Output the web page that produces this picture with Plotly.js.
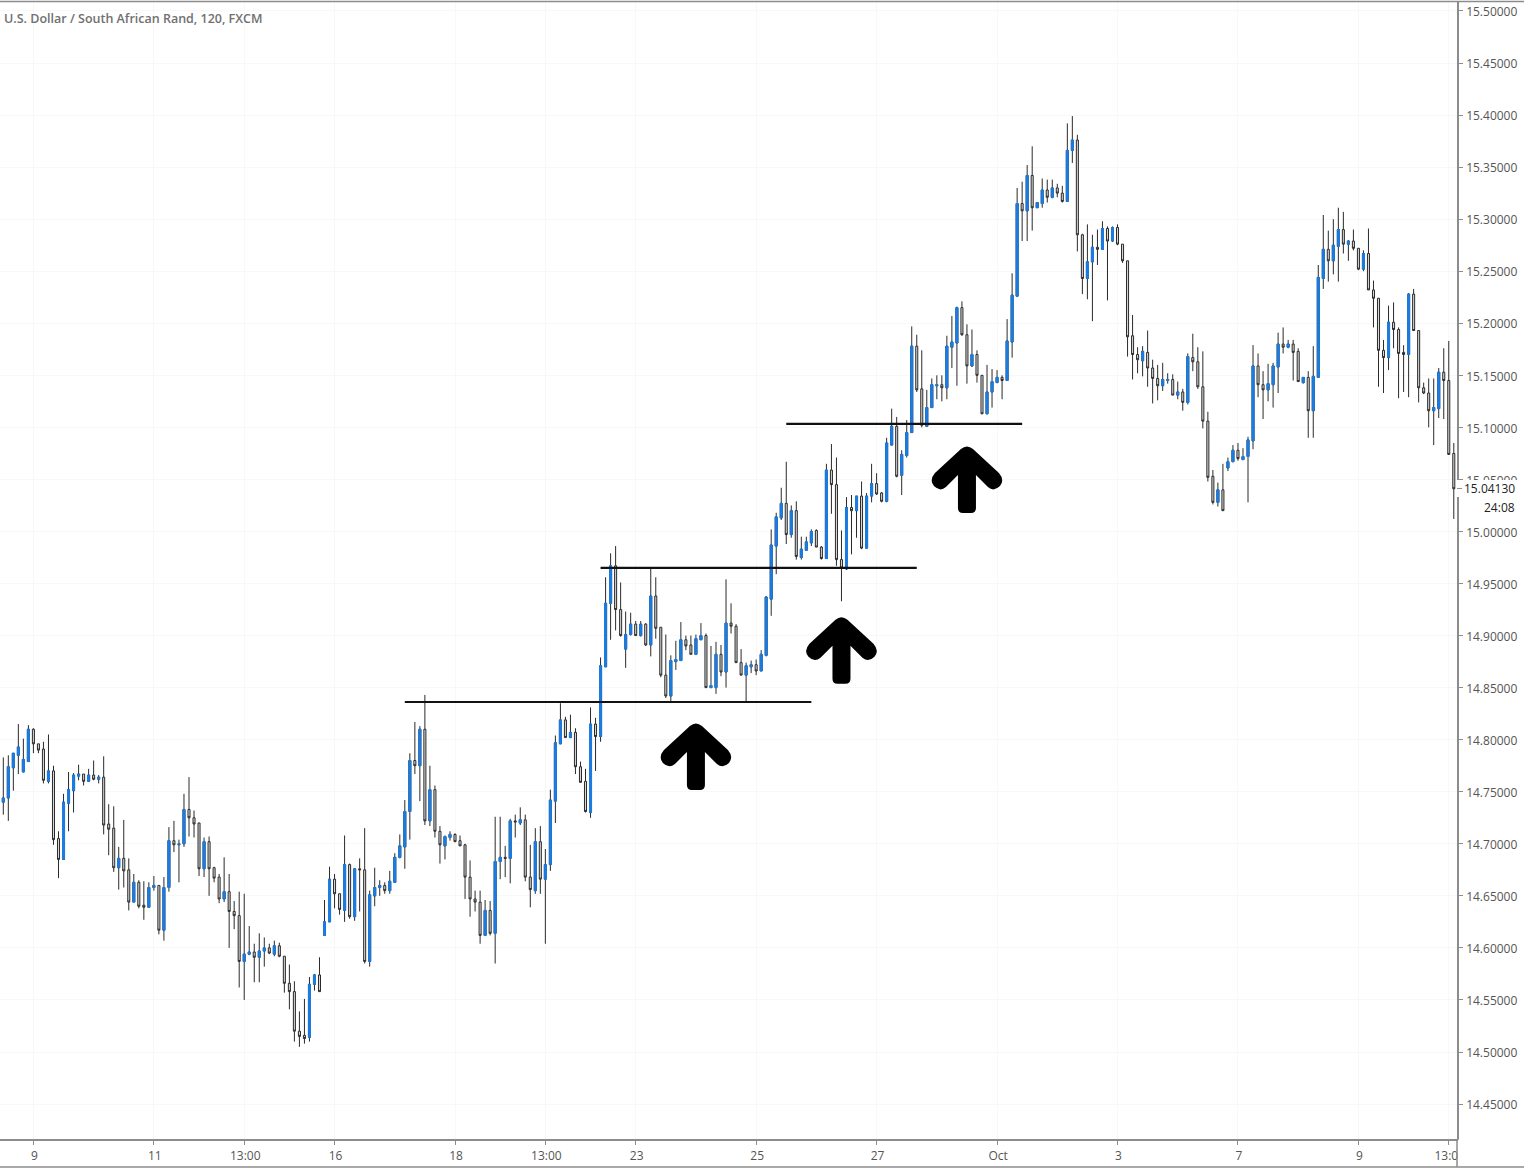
<!DOCTYPE html>
<html>
<head>
<meta charset="utf-8">
<script src="https://cdn.plot.ly/plotly-3.0.1.min.js"></script>
<style>
  html, body { margin: 0; padding: 0; background: #fff; }
</style>
</head>
<body>
<div id="graph-div" style="width:1529px;height:1173px"></div>
<script>
// USD/ZAR 2h bars
var opens = [
14.740,14.744,14.773,14.785,14.769,14.779,14.810,14.796,14.791,14.760,
14.770,14.705,14.685,14.739,14.751,14.765,14.767,14.760,14.766,14.762,
14.764,14.719,14.715,14.677,14.686,14.675,14.644,14.663,14.641,14.639,
14.658,14.660,14.617,14.658,14.703,14.699,14.700,14.733,14.725,14.720,
14.676,14.702,14.677,14.668,14.647,14.654,14.635,14.631,14.587,14.594,
14.596,14.591,14.597,14.600,14.594,14.602,14.592,14.566,14.558,14.520,
14.516,14.514,14.565,14.574,14.612,14.625,14.666,14.652,14.636,14.680,
14.630,14.676,14.675,14.587,14.650,14.658,14.660,14.655,14.663,14.687,
14.697,14.731,14.780,14.775,14.810,14.722,14.752,14.712,14.698,14.706,
14.709,14.703,14.699,14.668,14.647,14.644,14.612,14.636,14.614,14.683,
14.687,14.686,14.722,14.720,14.723,14.668,14.655,14.702,14.666,14.680,
14.741,14.796,14.819,14.802,14.807,14.774,14.760,14.730,14.815,14.803,
14.870,14.931,14.967,14.925,14.887,14.901,14.911,14.900,14.911,14.891,
14.938,14.908,14.862,14.842,14.875,14.876,14.896,14.891,14.882,14.896,
14.900,14.850,14.850,14.882,14.865,14.912,14.909,14.874,14.862,14.870,
14.872,14.866,14.881,14.935,14.986,15.013,15.027,14.997,15.020,14.975,
14.982,14.989,15.001,14.985,14.974,15.059,15.045,14.973,14.964,15.023,
15.020,15.034,14.984,15.034,15.046,15.037,15.029,15.083,15.101,15.054,
15.073,15.095,15.178,15.137,15.101,15.119,15.140,15.141,15.138,15.177,
15.181,15.215,15.189,15.159,15.170,15.150,15.113,15.134,15.143,15.148,
15.145,15.182,15.226,15.315,15.308,15.342,15.311,15.315,15.328,15.321,
15.330,15.325,15.317,15.366,15.376,15.285,15.243,15.259,15.273,15.271,
15.291,15.279,15.292,15.276,15.260,15.188,15.170,15.164,15.172,15.157,
15.147,15.140,15.145,15.146,15.131,15.134,15.124,15.167,15.163,15.139,
15.106,15.053,15.028,15.040,15.061,15.067,15.078,15.069,15.072,15.087,
15.159,15.141,15.136,15.141,15.158,15.180,15.177,15.180,15.173,15.143,
15.148,15.116,15.148,15.243,15.271,15.260,15.274,15.290,15.276,15.279,
15.272,15.252,15.267,15.232,15.224,15.174,15.167,15.201,15.194,15.172,
15.170,15.228,15.193,15.138,15.133,15.116,15.118,15.153,15.145,15.075
]
var highs = [
14.783,14.785,14.787,14.815,14.801,14.814,14.811,14.796,14.798,14.805,
14.775,14.712,14.748,14.769,14.768,14.776,14.767,14.772,14.780,14.766,
14.784,14.738,14.736,14.697,14.723,14.686,14.671,14.665,14.664,14.663,
14.669,14.660,14.668,14.716,14.722,14.704,14.748,14.764,14.732,14.720,
14.706,14.707,14.678,14.671,14.687,14.671,14.645,14.654,14.652,14.621,
14.604,14.614,14.610,14.604,14.607,14.605,14.592,14.584,14.568,14.539,
14.551,14.572,14.575,14.591,14.646,14.678,14.671,14.652,14.708,14.681,
14.676,14.686,14.715,14.655,14.677,14.665,14.663,14.674,14.691,14.709,
14.742,14.787,14.817,14.813,14.843,14.775,14.756,14.717,14.708,14.712,
14.710,14.708,14.700,14.684,14.655,14.655,14.646,14.645,14.726,14.726,
14.698,14.724,14.728,14.735,14.728,14.699,14.715,14.717,14.695,14.752,
14.804,14.835,14.822,14.824,14.811,14.779,14.772,14.831,14.821,14.879,
14.956,14.979,14.986,14.951,14.923,14.922,14.914,14.914,14.912,14.965,
14.956,14.908,14.901,14.881,14.895,14.913,14.900,14.900,14.901,14.912,
14.902,14.890,14.894,14.891,14.954,14.931,14.911,14.887,14.874,14.876,
14.877,14.886,14.938,15.002,15.018,15.042,15.067,15.025,15.029,14.995,
14.995,15.002,15.002,14.986,15.065,15.084,15.071,15.001,15.033,15.035,
15.034,15.048,15.037,15.065,15.056,15.038,15.090,15.118,15.110,15.078,
15.107,15.197,15.189,15.174,15.136,15.147,15.150,15.150,15.188,15.207,
15.216,15.221,15.199,15.194,15.174,15.150,15.160,15.156,15.155,15.150,
15.204,15.248,15.330,15.336,15.352,15.370,15.316,15.339,15.338,15.338,
15.334,15.332,15.392,15.399,15.381,15.286,15.295,15.285,15.290,15.298,
15.293,15.293,15.295,15.276,15.260,15.208,15.177,15.178,15.193,15.165,
15.160,15.162,15.152,15.151,15.144,15.137,15.171,15.190,15.177,15.173,
15.115,15.059,15.047,15.065,15.071,15.083,15.085,15.080,15.091,15.179,
15.171,15.154,15.161,15.162,15.191,15.196,15.184,15.184,15.176,15.148,
15.154,15.178,15.256,15.304,15.289,15.300,15.311,15.307,15.280,15.290,
15.272,15.270,15.291,15.241,15.224,15.184,15.217,15.220,15.196,15.179,
15.229,15.233,15.193,15.143,15.147,15.147,15.157,15.176,15.183,15.085
]
var lows = [
14.728,14.722,14.751,14.767,14.769,14.779,14.787,14.787,14.758,14.758,
14.699,14.667,14.685,14.712,14.730,14.761,14.756,14.760,14.761,14.758,
14.709,14.689,14.673,14.656,14.658,14.636,14.644,14.638,14.627,14.639,
14.655,14.613,14.607,14.654,14.692,14.663,14.697,14.707,14.706,14.669,
14.668,14.650,14.663,14.643,14.644,14.600,14.618,14.562,14.550,14.593,
14.567,14.567,14.582,14.594,14.592,14.591,14.557,14.541,14.510,14.505,
14.508,14.510,14.559,14.558,14.612,14.625,14.638,14.632,14.625,14.628,
14.626,14.635,14.585,14.582,14.640,14.650,14.652,14.652,14.663,14.686,
14.676,14.704,14.767,14.741,14.718,14.717,14.706,14.681,14.685,14.703,
14.702,14.698,14.647,14.630,14.635,14.604,14.612,14.612,14.585,14.666,
14.668,14.662,14.706,14.718,14.664,14.639,14.652,14.652,14.604,14.674,
14.720,14.796,14.802,14.802,14.767,14.759,14.730,14.725,14.770,14.798,
14.870,14.896,14.905,14.899,14.869,14.900,14.900,14.899,14.890,14.880,
14.897,14.860,14.840,14.837,14.867,14.876,14.886,14.882,14.882,14.896,
14.850,14.850,14.844,14.861,14.850,14.902,14.874,14.862,14.837,14.864,
14.862,14.866,14.880,14.919,14.959,15.011,14.988,14.994,14.973,14.973,
14.982,14.986,14.985,14.973,14.974,15.017,14.967,14.933,14.963,14.978,
14.994,14.983,14.984,15.028,15.035,15.028,15.028,15.083,15.052,15.035,
15.071,15.095,15.134,15.100,15.101,15.119,15.127,15.125,15.127,15.157,
15.140,15.188,15.142,15.158,15.143,15.113,15.113,15.119,15.143,15.127,
15.145,15.167,15.226,15.279,15.279,15.289,15.311,15.311,15.316,15.320,
15.321,15.316,15.317,15.354,15.269,15.228,15.223,15.202,15.256,15.271,
15.222,15.278,15.275,15.258,15.168,15.146,15.152,15.149,15.139,15.123,
15.126,15.135,15.142,15.131,15.127,15.116,15.122,15.154,15.137,15.099,
15.048,15.026,15.024,15.020,15.058,15.067,15.068,15.069,15.028,15.079,
15.129,15.108,15.125,15.119,15.133,15.171,15.176,15.145,15.144,15.142,
15.090,15.090,15.148,15.233,15.240,15.247,15.240,15.267,15.260,15.270,
15.251,15.250,15.232,15.196,15.139,15.133,15.155,15.176,15.128,15.134,
15.129,15.193,15.124,15.132,15.100,15.083,15.109,15.108,15.074,15.012
]
var closes = [
14.744,14.774,14.787,14.793,14.781,14.810,14.796,14.790,14.761,14.770,
14.704,14.685,14.740,14.752,14.766,14.767,14.760,14.766,14.762,14.764,
14.718,14.714,14.677,14.686,14.674,14.644,14.663,14.640,14.639,14.658,
14.660,14.617,14.658,14.703,14.699,14.700,14.733,14.725,14.719,14.676,
14.702,14.676,14.667,14.647,14.654,14.635,14.631,14.587,14.594,14.596,
14.591,14.597,14.600,14.595,14.602,14.592,14.566,14.558,14.520,14.515,
14.513,14.565,14.574,14.558,14.625,14.666,14.652,14.637,14.680,14.630,
14.676,14.675,14.587,14.651,14.658,14.660,14.655,14.664,14.687,14.698,
14.731,14.780,14.775,14.810,14.722,14.752,14.712,14.699,14.707,14.709,
14.702,14.698,14.668,14.647,14.644,14.612,14.636,14.614,14.683,14.687,
14.686,14.722,14.721,14.723,14.668,14.656,14.702,14.666,14.680,14.742,
14.797,14.819,14.802,14.807,14.774,14.759,14.731,14.815,14.803,14.871,
14.931,14.967,14.925,14.900,14.901,14.911,14.900,14.911,14.891,14.938,
14.907,14.862,14.842,14.876,14.877,14.896,14.890,14.882,14.897,14.900,
14.850,14.852,14.882,14.865,14.912,14.909,14.874,14.862,14.871,14.872,
14.866,14.882,14.937,14.987,15.014,15.027,14.997,15.020,14.976,14.983,
14.990,15.000,14.985,14.974,15.059,15.045,14.973,14.965,15.023,15.020,
15.034,14.984,15.034,15.046,15.036,15.029,15.085,15.101,15.053,15.074,
15.095,15.178,15.136,15.102,15.119,15.141,15.141,15.138,15.178,15.182,
15.215,15.189,15.159,15.170,15.150,15.113,15.134,15.144,15.148,15.145,
15.183,15.227,15.315,15.308,15.342,15.311,15.316,15.328,15.321,15.330,
15.325,15.317,15.366,15.376,15.285,15.243,15.259,15.273,15.271,15.291,
15.279,15.292,15.276,15.260,15.187,15.170,15.165,15.173,15.157,15.147,
15.140,15.146,15.146,15.131,15.134,15.124,15.168,15.163,15.139,15.106,
15.052,15.028,15.040,15.020,15.067,15.078,15.070,15.072,15.088,15.159,
15.141,15.136,15.142,15.159,15.180,15.177,15.180,15.172,15.144,15.148,
15.116,15.149,15.244,15.271,15.260,15.275,15.290,15.276,15.279,15.272,
15.252,15.267,15.232,15.224,15.174,15.167,15.201,15.194,15.171,15.170,
15.228,15.193,15.138,15.133,15.116,15.119,15.153,15.145,15.074,15.041
]

var timeTicks = [6,30,48,66,90,108,126,150,174,198,222,246,270,288]
var timeLabels = ["9","11","13:00","16","18","13:00","23","25","27","Oct","3","7","9","13:00"]
var priceTicks = [15.5,15.45,15.4,15.35,15.3,15.25,15.2,15.15,15.1,15.05,15,14.95,14.9,14.85,14.8,14.75,14.7,14.65,14.6,14.55,14.5,14.45]

// support/resistance lines: [first bar, last bar, price]
var levels = [[80,161,14.8362],[119,182,14.9650],[156,203,15.1033]]
// arrows: [bar, price of the tip]
var arrows = [[138,14.816],[167,14.918],[192,15.082]]

var lastPrice = 15.0413
var countdown = "24:08"

var bars = opens.map(function(v, i) { return i })
var upIdx = bars.filter(function(i) { return closes[i] >= opens[i] })

var BLUE = "#1c7ce0"
var DARK = "#2a2a2a"
var GREY = "#555"
var FRAME = "#8c8c8c"
var FONT = "'Open Sans', sans-serif"

var candles = {
  type: "candlestick", x: bars, open: opens, high: highs, low: lows, close: closes,
  increasing: {line: {color: DARK, width: 1}, fillcolor: BLUE},
  decreasing: {line: {color: DARK, width: 1}, fillcolor: "#d8d8d8"},
  hoverinfo: "skip", showlegend: false
}
// bodies only, so the blue candles keep dark wicks
var blueBodies = {
  type: "candlestick",
  x: upIdx,
  open: upIdx.map(function(i) { return opens[i] }),
  high: upIdx.map(function(i) { return closes[i] }),
  low: upIdx.map(function(i) { return opens[i] }),
  close: upIdx.map(function(i) { return closes[i] }),
  increasing: {line: {color: BLUE, width: 1}, fillcolor: BLUE},
  decreasing: {line: {color: BLUE, width: 1}, fillcolor: BLUE},
  hoverinfo: "skip", showlegend: false
}

var shapes = []
for (let i = 0; i < levels.length; ++i) {
  shapes.push({type: "line", xref: "x", yref: "y", x0: levels[i][0], x1: levels[i][1], y0: levels[i][2], y1: levels[i][2],
    line: {color: "#111", width: 2.2}})
}
for (let i = 0; i < arrows.length; ++i) {
  shapes.push({type: "path", xref: "x", yref: "y", xsizemode: "pixel", ysizemode: "pixel",
    xanchor: arrows[i][0], yanchor: arrows[i][1],
    path: "M -6 -3 Q 0 2 6 -3 L 32 -27 Q 38 -34 33 -40 Q 27 -46 21 -41 L 9 -29 L 9 -62 Q 9 -67 4 -67 L -4 -67 Q -9 -67 -9 -62 L -9 -29 L -21 -41 Q -27 -46 -33 -40 Q -38 -34 -32 -27 Z",
    fillcolor: "#000", line: {width: 0}})
}
// right of the price axis, the time axis is cut off
shapes.push({type: "rect", xref: "paper", yref: "paper", x0: 1.0007, x1: 1.0494, y0: -0.024, y1: -0.0007,
  fillcolor: "#fff", line: {width: 0}})
// price tag hides the axis line and half of the tick label behind it
shapes.push({type: "rect", xref: "paper", yref: "y", x0: 0.9993, x1: 1.0494, y0: 15.033, y1: 15.0495,
  fillcolor: "#fff", line: {width: 0}})
shapes.push({type: "rect", xref: "paper", yref: "y", x0: 1.002, x1: 1.0494, y0: 15.012, y1: 15.033,
  fillcolor: "#fff", line: {width: 0}})
shapes.push({type: "line", xref: "paper", yref: "y", x0: 1, x1: 1.0035, y0: lastPrice, y1: lastPrice,
  line: {color: FRAME, width: 1}})
// outer frame
shapes.push({type: "line", xref: "paper", yref: "paper", x0: 0, x1: 1.046, y0: 1.0005, y1: 1.0005, line: {color: FRAME, width: 1.5}})
shapes.push({type: "line", xref: "paper", yref: "paper", x0: 0, x1: 1.046, y0: -0.0246, y1: -0.0246, line: {color: FRAME, width: 1.5}})
shapes.push({type: "line", xref: "paper", yref: "paper", x0: 1, x1: 1, y0: -0.0246, y1: -0.0003, line: {color: FRAME, width: 1.5}})

var layout = {
  width: 1529, height: 1173,
  margin: {l: 0, r: 72, t: 2, b: 34, pad: 0},
  paper_bgcolor: "#fff", plot_bgcolor: "#fff",
  showlegend: false, dragmode: false, boxgap: 0.42,
  xaxis: {
    range: [-0.657, 289.64], rangeslider: {visible: false},
    tickmode: "array", tickvals: timeTicks, ticktext: timeLabels,
    ticks: "outside", ticklen: 4, tickcolor: FRAME, tickwidth: 1,
    tickfont: {family: FONT, size: 12, color: GREY}, ticklabelstandoff: 1, ticklabelshift: 1,
    showgrid: true, gridcolor: "#f8f8f8", gridwidth: 1, zeroline: false,
    showline: true, linecolor: FRAME, linewidth: 1.5
  },
  yaxis: {
    side: "right", range: [14.41643, 15.5086],
    tickmode: "array", tickvals: priceTicks, tickformat: ".5f",
    ticks: "outside", ticklen: 4, tickcolor: FRAME, tickwidth: 1,
    tickfont: {family: FONT, size: 12, color: GREY}, ticklabelstandoff: 1, ticklabelshift: 1,
    showgrid: true, gridcolor: "#f8f8f8", gridwidth: 1, zeroline: false,
    showline: true, linecolor: FRAME, linewidth: 1.5
  },
  shapes: shapes,
  annotations: [
    {xref: "paper", yref: "paper", x: 0.0012, y: 0.9859, xanchor: "left", yanchor: "middle", showarrow: false,
      text: "U.S. Dollar / South African Rand, 120, FXCM",
      font: {family: FONT, size: 12.5, color: "#707070", weight: 600}},
    {xref: "paper", yref: "y", x: 1.041, y: lastPrice, xanchor: "right", yanchor: "middle", showarrow: false,
      text: lastPrice.toFixed(5), font: {family: FONT, size: 12, color: "#222"}},
    {xref: "paper", yref: "y", x: 1.041, y: 15.0235, xanchor: "right", yanchor: "middle", showarrow: false,
      text: countdown, font: {family: FONT, size: 12, color: "#222"}}
  ]
}

Plotly.newPlot(document.getElementById("graph-div"), [candles, blueBodies], layout, {displayModeBar: false, responsive: false})
</script>
</body>
</html>
